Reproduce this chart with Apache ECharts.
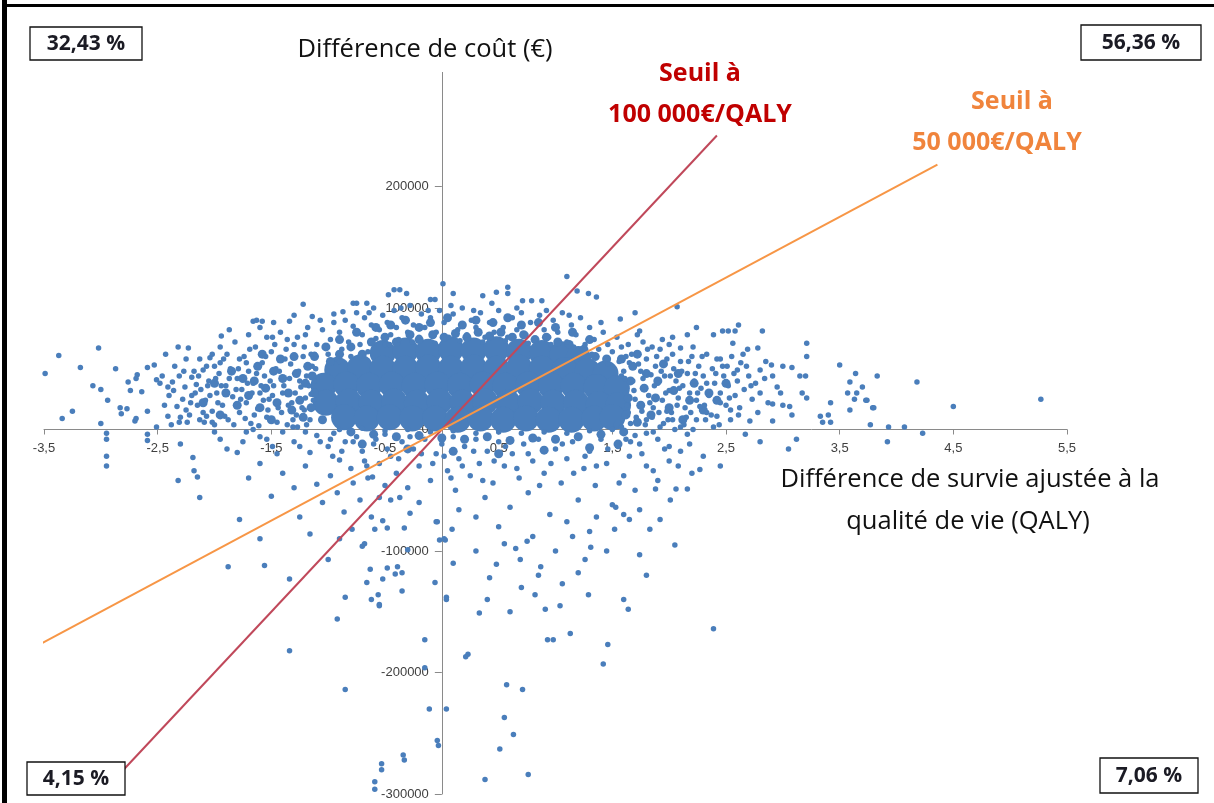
<!DOCTYPE html>
<html>
<head>
<meta charset="utf-8">
<script src="https://cdn.jsdelivr.net/npm/echarts@6/dist/echarts.min.js"></script>
<style>
html,body{margin:0;padding:0;background:#fff;}
#chart{width:1214px;height:803px;}
</style>
</head>
<body>
<div id="chart"></div>
<script>
// Axis ticks (QALY, k€)
const xTicks = [-3.5, -2.5, -1.5, -0.5, 0.5, 1.5, 2.5, 3.5, 4.5, 5.5];
const yTicks = [-300, -200, -100, 0, 100, 200];

// Titles and quadrant shares
const yTitle = 'Différence de coût (€)';
const xTitle = ['Différence de survie ajustée à la', 'qualité de vie (QALY)'];
const seuil100Label = ['Seuil à', '100 000€/QALY'];
const seuil50Label = ['Seuil à', '50 000€/QALY'];
const quadrantShares = ['32,43 %', '56,36 %', '4,15 %', '7,06 %'];

// Willingness-to-pay threshold lines [QALY, k€]
const seuil100 = [[-3.0, -300], [2.42, 242]];
const seuil50 = [[-3.54, -177], [4.36, 218]];

// Simulated points [QALY difference, cost difference in k€]
// Dense core of the cloud (overlapping mass)
const corePoints = [
[-0.52,63],[-0.32,65],[-0.12,64],[0.08,66],[0.28,65],[0.48,66],[0.68,64],[0.88,63],[1.06,62],[1.2,58],
[-0.92,49],[-0.72,51],[-0.52,50],[-0.32,50],[-0.12,51],[0.08,50],[0.28,51],[0.48,50],[0.68,51],[0.88,50],[1.08,49],[1.28,48],[1.44,46],
[-1.04,36],[-0.84,37],[-0.64,36],[-0.44,37],[-0.24,36],[-0.04,37],[0.16,36],[0.36,37],[0.56,36],[0.76,37],[0.96,36],[1.16,36],[1.36,35],[1.54,34],
[-1.02,22],[-0.82,23],[-0.62,22],[-0.42,23],[-0.22,22],[-0.02,23],[0.18,22],[0.38,23],[0.58,22],[0.78,23],[0.98,22],[1.18,22],[1.38,21],[1.55,20],
[-0.86,10],[-0.66,9],[-0.46,10],[-0.26,9],[-0.06,9],[0.14,8],[0.34,9],[0.54,8],[0.74,9],[0.94,8],[1.14,8],[1.34,9],[1.5,10]
];

// Dense halo around the core (clustered points)
const haloPoints = [
[-1.22,10],[-1.25,24],[-1.2,38],[-1.18,52],[-1.28,46],[-1.35,30],[-1.32,16],[-1.4,42],[-1.45,22],[-1.5,8],
[-1.48,48],[-1.55,34],[-1.6,18],[-1.62,52],[-1.7,28],[-1.75,42],[-1.8,20],[-1.9,30],[-1.12,60],[-1.05,8],
[-0.98,56],[-1.15,18],[-1.3,60],[-1.42,58],[-1.58,62],[-1.12,30],[-1.14,44],
[-0.9,62],[-0.8,68],[-0.7,62],[-0.62,72],[-0.5,76],[-0.4,72],[-0.28,78],[-0.2,74],[-0.08,78],[0.02,76],
[0.12,79],[0.22,76],[0.32,80],[0.42,77],[0.52,80],[0.62,76],[0.72,78],[0.82,74],[0.92,76],[1.02,72],
[1.12,70],[1.25,66],[1.35,60],[1.45,58],[-0.45,86],[-0.1,88],[0.3,90],[0.7,86],[1.0,84],
[-0.75,80],[-0.58,84],[-0.32,90],[-0.2,84],[0.05,92],[0.18,86],[0.45,88],[0.58,92],[0.85,88],[1.15,80],
[1.3,74],[-0.9,74],[-1.02,68],
[1.62,12],[1.64,26],[1.66,40],[1.68,52],[1.72,6],[1.75,20],[1.78,34],[1.8,46],[1.84,12],[1.88,26],
[1.9,40],[1.95,54],[2.0,18],[2.04,32],[2.08,46],[2.12,8],[2.18,24],[2.22,38],[2.3,16],[2.35,30],
[1.58,58],[1.72,62],[1.55,4],[2.42,24],[2.5,38],
[-0.8,-2],[-0.6,-4],[-0.4,-6],[-0.2,-5],[0.0,-7],[0.2,-8],[0.4,-6],[0.6,-9],[0.8,-7],[1.0,-8],
[1.2,-6],[1.4,-4],[1.6,-2],[-0.3,-16],[0.1,-18],[0.5,-20],[0.9,-17],[1.3,-15],[-0.7,-12],[1.55,-12],
[-1.65,40],[-1.85,48],[-2.0,38],[-2.1,22],[-1.95,12]
];

// Far left sparse points
const leftFarPoints = [
[-3.49,46],[-3.37,61],[-3.02,67],[-3.18,51],[-2.87,50],[-3.07,36],[-3.0,33],[-2.94,24],[-3.25,15],[-3.34,9],
[-3.0,5],[-2.95,-3],[-2.95,-22],[-2.83,18],[-2.77,17],[-2.82,13],[-2.76,39],[-2.68,45],[-2.69,42],[-2.69,9],
[-2.7,7],[-2.59,51],[-2.53,53],[-2.59,15],[-2.59,-4],[-2.64,31],[-2.74,32],[-2.43,62],[-2.32,68],[-2.23,67],
[-2.95,-8],[-2.95,-30],[-2.59,-9],[-2.18,-34],[-2.15,-39]
];

// Left medium-density zone
const leftMidPoints = [
[-2.51,41],[-2.46,44],[-2.48,38],[-2.41,35],[-2.37,39],[-2.31,44],[-2.26,35],[-2.2,43],[-2.16,37],[-2.13,58],
[-2.1,49],[-2.07,52],[-2.04,59],[-2.02,62],[-1.95,55],[-1.89,62],[-1.87,82],[-1.94,77],[-1.78,58],[-1.72,55],
[-1.66,89],[-1.63,90],[-1.58,89],[-1.54,76],[-1.49,76],[-1.36,74],[-1.34,89],[-1.22,103],[-1.14,93],[-1.07,90],
[-0.87,97],[-0.78,104],[-0.75,104],[-0.66,104],[-0.47,111],[-0.42,115],[-0.37,115],[-0.31,112],[-0.1,107],[-0.06,107],
[-2.51,2],[-2.41,11],[-2.38,4],[-2.33,19],[-2.31,6],[-2.25,16],[-2.19,-23],[-2.13,8],[-2.07,11],[-2.02,6],
[-1.95,-8],[-1.89,-16],[-1.8,-19],[-1.72,-2],[-1.66,0],[-1.54,-8],[-1.49,-14],[-1.4,-2],[-1.31,2],[-1.25,-14],
[-1.16,-19],[-1.07,-10],[-0.96,-22],
[-2.28,25],[-2.22,12],[-2.2,28],[-2.15,20],[-2.12,33],[-2.08,24],[-2.05,40],[-2.02,15],[-1.98,30],[-1.96,46],
[-1.93,20],[-1.9,36],[-1.88,8],[-1.86,50],[-1.84,27],[-1.8,42],[-1.78,14],[-1.76,33],[-1.74,60],[-1.72,22],
[-1.7,48],[-1.68,5],[-1.66,38],[-1.64,68],[-1.62,17],[-1.6,30],[-1.58,55],[-1.56,44],[-1.54,10],[-1.52,25],
[-1.5,64],[-1.48,36],[-1.46,50],[-1.44,18],[-1.42,80],[-1.4,30],[-1.38,58],[-1.36,4],[-1.34,42],[-1.32,22],
[-1.3,70],[-1.28,12],[-1.26,48],[-1.24,35],[-1.22,60],[-1.2,26],[-1.18,84],[-1.16,8],[-1.14,52],[-1.12,40],
[-2.4,28],[-2.35,52],[-2.25,58],[-2.18,48],[-1.82,72],[-1.7,78],[-1.6,84],[-1.95,68],[-2.0,52],[-1.48,88],
[-1.3,94],[-1.2,78],[-1.1,70],[-1.05,82],[-0.95,88],[-1.27,2],[-1.21,16],[-1.19,44],[-1.15,29],[-1.12,62],
[-2.24,6],[-2.17,30],[-2.1,14],[-2.06,36],[-2.0,4],[-1.97,22],[-1.92,58],[-1.91,11],[-1.87,42],[-1.83,4],
[-1.81,33],[-1.79,50],[-1.77,25],[-1.73,9],[-1.71,38],[-1.69,66],[-1.67,30],[-1.65,12],[-1.63,46],[-1.61,3],
[-1.59,36],[-1.57,24],[-1.55,60],[-1.53,16],[-1.51,40],[-1.49,28],[-1.47,70],[-1.45,6],[-1.43,48],[-1.41,14],
[-1.39,36],[-1.37,66],[-1.35,20],[-1.33,54],[-1.31,8],[-1.29,30],[-1.27,76],[-1.25,40],[-1.23,18],[-1.21,68],
[-1.19,4],[-1.17,36],[-1.15,62],[-1.13,24],[-1.11,50],
[-2.44,20],[-2.36,32],[-2.3,10],[-2.27,48],[-2.21,22],[-2.14,44],[-2.09,6],[-2.04,28],[-1.99,42],[-1.94,36]
];

// Upper fringe of the core
const topFringePoints = [
[-1.0,62],[-0.98,74],[-0.95,95],[-0.92,58],[-0.9,80],[-0.88,66],[-0.85,90],[-0.82,72],[-0.8,60],[-0.78,85],
[-0.75,96],[-0.72,70],[-0.7,78],[-0.68,92],[-0.65,64],[-0.62,86],[-0.6,100],[-0.58,75],[-0.55,82],[-0.52,94],
[-0.5,70],[-0.48,88],[-0.45,78],[-0.42,98],[-0.4,84],[-0.38,74],[-0.35,92],[-0.3,80],[-0.28,102],[-0.25,86],
[-0.2,76],[-0.18,95],[-0.15,84],[-0.1,92],[-0.05,80],[-0.02,98],
[0.02,88],[0.06,76],[0.1,95],[0.14,82],[0.18,100],[0.22,78],[0.26,90],[0.3,84],[0.34,96],[0.38,76],
[0.42,88],[0.46,80],[0.5,98],[0.54,84],[0.58,76],[0.62,92],[0.66,82],[0.7,96],[0.74,78],[0.78,88],
[0.82,74],[0.86,94],[0.9,82],[0.94,76],[0.98,90],[1.02,80],[1.06,96],[1.1,72],[1.14,86],[1.18,78],
[1.22,92],[1.26,70],[1.3,84],[1.34,74],[1.38,66],[1.42,80],[1.46,70],[1.5,64],[1.54,76],[1.58,68],[1.62,60],
[0.01,120],[0.1,112],[0.36,110],[0.48,113],[0.58,117],[0.58,112],[0.71,106],[0.79,106],[0.88,106],[1.1,126],
[1.19,114],[1.29,112],[1.36,109],[1.7,96],[1.57,91],
[-0.46,70],[-0.26,72],[-0.06,71],[0.16,73],[0.36,72],[0.56,73],[0.76,71],[0.96,70],[1.16,68],[1.32,62],
[-0.72,60],[-0.9,56],[1.46,54],[1.58,44],
[-0.64,96],[-0.36,100],[-0.12,98],[0.08,102],[0.28,98],[0.44,104],[0.66,100],[0.92,98],[1.12,94],[1.4,88]
];

// Right medium-density zone
const rightMidPoints = [
[1.74,81],[1.77,72],[1.94,74],[2.03,76],[2.16,78],[2.1,67],[2.21,68],[2.33,62],[2.39,78],[2.45,58],
[2.51,52],[2.6,49],[2.68,52],[2.69,66],[2.78,67],[2.8,49],[2.9,53],[3.0,52],[3.08,51],[3.15,44],[3.2,44],
[2.91,44],[2.95,35],[2.98,30],[2.91,21],[3.0,20],[3.06,19],[3.08,12],[3.17,30],[3.21,26],[2.91,7],
[3.12,-8],[3.05,-16],[2.8,-10],[2.67,-4],[2.71,7],[2.61,12],[2.54,8],[2.54,16],[2.45,22],[2.42,11],
[2.39,2],[2.33,14],[2.27,19],[2.24,8],[2.21,0],[2.16,-4],[2.1,2],[2.03,8],[1.98,15],[1.92,2],[1.86,-2],[1.8,8],
[1.65,55],[1.68,40],[1.7,25],[1.72,62],[1.75,48],[1.76,15],[1.78,35],[1.8,58],[1.82,28],[1.84,45],
[1.86,18],[1.88,52],[1.9,38],[1.92,66],[1.94,24],[1.96,44],[1.98,58],[2.0,32],[2.02,14],[2.04,50],
[2.06,40],[2.08,26],[2.1,56],[2.12,36],[2.14,18],[2.16,46],[2.18,30],[2.2,60],[2.22,40],[2.24,24],
[2.26,52],[2.28,34],[2.3,44],[2.32,8],[2.35,28],[2.38,50],[2.4,38],[2.42,58],[2.45,30],[2.48,44],
[2.5,20],[2.52,36],[2.55,60],[2.58,28],[2.6,40],[2.63,55],[2.66,33],[2.7,44],[2.73,25],[2.76,38],
[2.8,30],[2.84,42],[2.87,22],[1.66,5],[1.7,-5],[1.74,-12],[1.8,-3],[1.85,10],[1.9,-8],[1.95,5],
[2.0,-14],[2.05,0],[2.1,-18],[2.15,10],[1.62,-8],[1.64,70],[1.72,78],[1.85,68],[2.0,70],
[1.6,48],[1.62,30],[1.64,14],[1.58,2],[1.56,56],
[1.61,42],[1.63,20],[1.67,62],[1.69,32],[1.71,10],[1.73,54],[1.77,42],[1.79,4],[1.81,66],[1.83,22],
[1.87,36],[1.89,60],[1.91,14],[1.93,48],[1.97,30],[1.99,8],[2.01,44],[2.03,62],[2.07,20],[2.09,34],
[2.11,48],[2.13,4],[2.17,56],[2.19,14],[2.23,46],[2.25,30],[2.29,60],[2.31,20],[2.33,38],[2.37,12],
[2.41,46],[2.44,4],[2.47,52],[2.53,26],[2.57,46],[2.62,18],[2.65,62],[2.72,36],[2.78,14],[2.85,56]
];

// Far right sparse points
const rightFarPoints = [
[2.07,101],[2.24,84],[2.47,81],[2.52,81],[2.58,81],[2.61,86],[2.82,81],[2.56,71],[3.21,71],[3.21,60],
[3.5,53],[3.64,46],[3.83,44],[3.59,39],[3.57,30],[3.65,30],[3.74,24],[3.79,18],[3.42,22],[3.4,12],
[3.33,11],[3.35,6],[3.42,6],[3.59,16],[3.77,4],[3.92,-10],[3.93,2],[3.7,35],[3.63,25],[3.73,24],
[3.8,18],[4.07,2],[4.23,-3],[4.18,39],[4.5,19],[5.27,25]
];

// Lower fringe and tail
const lowerPoints = [
[-1.1,-5],[-1.0,-14],[-0.95,-3],[-0.9,-25],[-0.85,-10],[-0.8,-32],[-0.75,-6],[-0.7,-18],[-0.65,-40],[-0.6,-12],
[-0.55,-28],[-0.5,-4],[-0.45,-22],[-0.4,-36],[-0.35,-10],[-0.3,-48],[-0.25,-16],[-0.2,-30],[-0.15,-8],[-0.1,-42],
[-0.05,-20],[0.0,-12],[0.05,-34],[0.1,-6],[0.12,-50],[0.15,-24],[0.2,-14],[0.25,-38],[0.3,-8],[0.33,-28],
[0.38,-56],[0.4,-18],[0.45,-44],[0.5,-10],[0.55,-30],[0.6,-64],[0.62,-20],[0.68,-40],[0.72,-12],[0.76,-52],
[0.8,-26],[0.85,-8],[0.9,-36],[0.95,-70],[1.0,-16],[1.05,-44],[1.1,-24],[1.15,-10],[1.2,-58],[1.25,-32],
[1.3,-18],[1.35,-46],[1.4,-8],[1.45,-28],[1.5,-62],[1.55,-14],[1.6,-38],[1.65,-22],[1.7,-50],[1.8,-30],
[1.9,-42],[2.0,-26],[2.2,-36],[2.3,-22],[2.45,-30],[0.3,-72],[0.5,-80],[0.15,-66],[-0.2,-60],[-0.45,-58],
[1.1,-76],[1.3,-84],[0.8,-88],[1.6,-70],[-0.05,-76],[0.65,-98],
[-0.61,-39],[-0.55,-56],[-0.5,-46],[-0.37,-56],[-0.28,-69],[-0.52,-75],[-0.48,-81],[-0.59,-82],[-0.33,-81],[-0.3,-99],
[-0.48,-114],[-0.39,-113],[-0.35,-118],[-0.66,-126],[-0.56,-136],[-0.55,-145],[-0.35,-133],[-0.06,-126],[0.04,-138],[-0.04,-76],
[0.03,-91],[-0.02,-91],[0.09,-82],[0.23,-185],[-0.15,-173],[-0.11,-230],[0.04,-230],[-0.04,-256],[-0.34,-268],[-0.53,-275],
[-0.59,-290],[-0.15,-196],[-0.59,-296],[-0.53,-280],[-0.33,-272],[-0.03,-260],[0.38,-288],[0.51,-263],[0.76,-284],
[0.02,-90],[0.04,-140],[0.21,-187],[0.33,-151],[0.4,-140],[0.42,-122],[0.48,-111],[0.55,-94],[0.69,-107],[0.75,-92],
[0.82,-136],[0.87,-113],[0.91,-148],[0.93,-173],[0.98,-173],[1.04,-145],[1.06,-127],[1.13,-168],[1.26,-107],[1.29,-136],
[1.31,-97],[1.36,-72],[1.42,-193],[1.46,-177],[1.52,-82],[1.53,-64],[1.6,-140],[1.64,-148],[1.65,-74],[1.74,-103],
[1.74,-66],[1.83,-82],[1.88,-49],[1.92,-74],[2.01,-58],[2.06,-49],[2.16,-49],[2.27,-33],[2.39,-164],
[0.57,-210],[0.63,-251],[0.71,-214],[0.55,-237],
[-1.34,-182],[-0.85,-214],[-0.85,-138],[-0.63,-115],[-0.52,-123],[-0.41,-119],[-0.68,-94],[-0.79,-82],[-0.92,-156],[-1.0,-107],
[-1.16,-86],[-1.25,-72],[-1.34,-123],[-1.56,-112],[-1.88,-113],[-2.13,-56],[-2.32,-42],[-0.62,-140],[-0.55,-144],[-1.6,-90],
[-1.78,-74],
[-1.2,-30],[-1.1,-45],[-1.05,-60],[-0.98,-38],[-0.92,-52],[-0.86,-68],[-0.78,-44],[-0.72,-58],[-0.66,-30],[-0.62,-72],
[-1.3,-48],[-1.4,-36],[-1.5,-55],[-1.6,-28],[-1.7,-40],[-0.9,-90],[-0.7,-96],
[1.15,-88],[1.2,-118],[1.45,-100],[1.0,-100],[0.85,-120],[0.7,-130],[0.6,-150],[0.3,-100],[0.1,-110],[1.8,-120],[2.05,-95],
[-0.98,-8],[-0.88,-18],[-0.78,-10],[-0.68,-26],[-0.58,-8],[-0.48,-16],[-0.38,-24],[-0.28,-6],[-0.18,-20],[-0.08,-28],
[0.02,-22],[0.08,-40],[0.18,-30],[0.28,-18],[0.36,-42],[0.46,-26],[0.56,-14],[0.66,-32],[0.76,-20],[0.86,-46],
[0.96,-28],[1.06,-12],[1.16,-36],[1.26,-22],[1.36,-30],[1.46,-16],[1.56,-44],[1.66,-10],[1.76,-20],[1.86,-34],
[1.96,-16],[2.08,-30],[2.18,-12],[-1.2,-2],[-1.3,-10],[-1.45,-20],[-1.6,-6],[-1.75,-10],[-2.0,-2],[-2.3,-12],
[-0.9,0],[-0.7,1],[-0.5,-1],[-0.3,0],[-0.1,-2],[0.1,-1],[0.3,-3],[0.5,-2],[0.7,-3],[0.9,-2],[1.1,-3],[1.3,-1],[1.5,0]
];

const dotColor = '#4A7EBB';
const chart = echarts.init(document.getElementById('chart'), null, {renderer: 'canvas'});

const fontFamily = '"Open Sans", "DejaVu Sans", sans-serif';

function boxGraphic(x, y, w, h, text) {
  return [
    {type: 'rect', z: 100, shape: {x: x, y: y, width: w, height: h},
     style: {fill: '#ffffff', stroke: '#111111', lineWidth: 1.3}},
    {type: 'text', z: 101, x: x + w / 2, y: y + h / 2 + 1,
     style: {text: text, fill: '#1b1b24', font: 'bold 21px ' + fontFamily,
             align: 'center', verticalAlign: 'middle', textAlign: 'center', textVerticalAlign: 'middle'}}
  ];
}
function label(x, y, text, color, font) {
  return {type: 'text', z: 90, x: x, y: y,
    style: {text: text, fill: color, font: font, align: 'center', verticalAlign: 'middle',
            textAlign: 'center', textVerticalAlign: 'middle'}};
}

const graphics = [].concat(
  [
    {type: 'rect', z: 110, shape: {x: 2, y: 0, width: 5, height: 803}, style: {fill: '#000'}},
    {type: 'rect', z: 110, shape: {x: 2, y: 4, width: 1212, height: 3}, style: {fill: '#000'}},
    {type: 'rect', z: 89, shape: {x: 292, y: 30, width: 268, height: 42}, style: {fill: '#fff'}},
    label(425, 50, yTitle, '#111', '25.5px ' + fontFamily),
    label(700, 74, seuil100Label[0], '#C00000', 'bold 25px ' + fontFamily),
    label(700, 115, seuil100Label[1], '#C00000', 'bold 25px ' + fontFamily),
    label(1012, 102, seuil50Label[0], '#F0843C', 'bold 25px ' + fontFamily),
    label(997, 143, seuil50Label[1], '#F0843C', 'bold 25px ' + fontFamily),
    label(970, 480, xTitle[0], '#111', '25.5px ' + fontFamily),
    label(968, 522, xTitle[1], '#111', '25.5px ' + fontFamily)
  ],
  boxGraphic(30, 27, 112, 33, quadrantShares[0]),
  boxGraphic(1081, 25, 120, 35, quadrantShares[1]),
  boxGraphic(27, 762, 98, 33, quadrantShares[2]),
  boxGraphic(1100, 758, 98, 35, quadrantShares[3])
);

const axisLineStyle = {color: '#8a8a8a', width: 1};
const labelStyle = {color: '#404040', fontSize: 13, fontFamily: '"Liberation Sans", sans-serif'};

// Grid geometry: axes cross at the origin (value 0 on both axes)
const gridLeft = 44, gridRight = 147, gridTop = 65, gridBottom = 9;
const xMin = -3.5, xMax = 5.5, yMin = -300, yMax = 300;
const plotW = 1214 - gridLeft - gridRight;
const plotH = 803 - gridTop - gridBottom;
const yAxisOffset = -((0 - xMin) / (xMax - xMin)) * plotW;
const xAxisOffset = -((0 - yMin) / (yMax - yMin)) * plotH;

function scatter(name, data, size) {
  return {name: name, type: 'scatter', data: data, symbolSize: size, z: 2,
          itemStyle: {color: dotColor, opacity: 1}, silent: true, animation: false};
}

chart.setOption({
  backgroundColor: '#ffffff',
  animation: false,
  grid: {left: gridLeft, right: gridRight, top: gridTop, bottom: gridBottom, containLabel: false, outerBoundsMode: 'none'},
  xAxis: {
    type: 'value', min: xMin, max: xMax, position: 'bottom', offset: xAxisOffset,
    axisLine: {onZero: false, lineStyle: axisLineStyle},
    axisTick: {show: true, inside: false, length: 5, lineStyle: axisLineStyle, customValues: xTicks},
    axisLabel: {customValues: xTicks, margin: 12, ...labelStyle,
                formatter: v => String(v).replace('.', ',')},
    splitLine: {show: false}
  },
  yAxis: {
    type: 'value', min: yMin, max: yMax, interval: 100, position: 'left', offset: yAxisOffset,
    axisLine: {onZero: false, lineStyle: axisLineStyle},
    axisTick: {show: true, length: 7, lineStyle: axisLineStyle, customValues: yTicks},
    axisLabel: {customValues: yTicks, margin: 13, ...labelStyle,
                formatter: v => String(Math.round(v * 1000))},
    splitLine: {show: false}
  },
  series: [
    scatter('core', corePoints, 26),
    scatter('halo', haloPoints, 9),
    scatter('leftFar', leftFarPoints, 5.5),
    scatter('leftMid', leftMidPoints, 5.5),
    scatter('topFringe', topFringePoints, 5.5),
    scatter('rightMid', rightMidPoints, 5.5),
    scatter('rightFar', rightFarPoints, 5.5),
    scatter('lower', lowerPoints, 5.5),
    {name: 'Seuil 100 000', type: 'line', data: seuil100, showSymbol: false, symbol: 'none', z: 5,
     lineStyle: {color: '#C0485A', width: 2}, silent: true},
    {name: 'Seuil 50 000', type: 'line', data: seuil50, showSymbol: false, symbol: 'none', z: 5,
     lineStyle: {color: '#F79646', width: 2}, silent: true}
  ],
  graphic: graphics
});
</script>
</body>
</html>
